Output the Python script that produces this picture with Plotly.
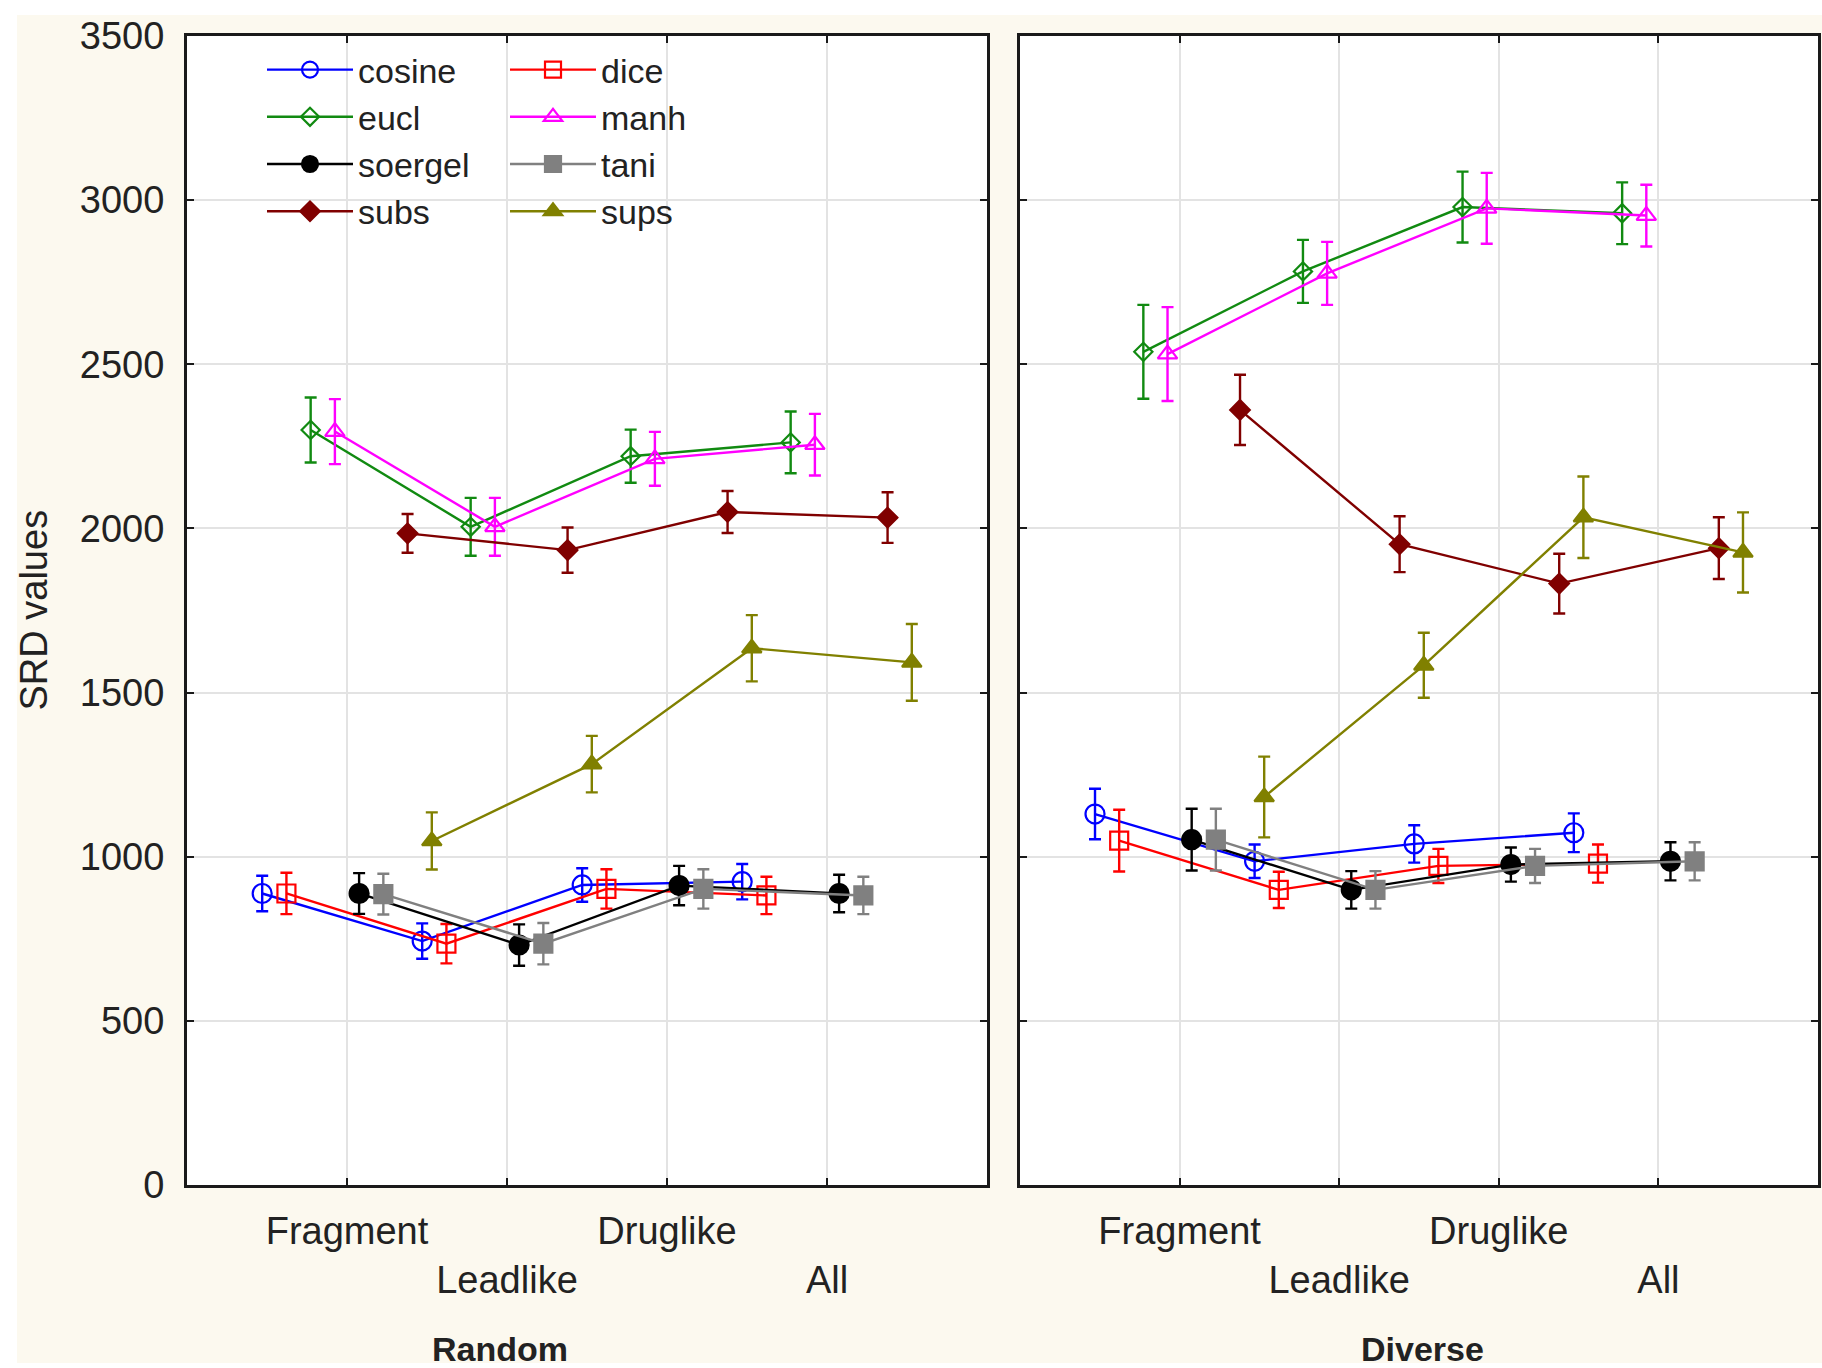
import plotly.graph_objects as go

# ---- data -------------------------------------------------------------
categories = ["Fragment", "Leadlike", "Druglike", "All"]
tick_text = ["Fragment", "<br>Leadlike", "Druglike", "<br>All"]
panels = ["Random", "Diverse"]
series = ["cosine", "dice", "eucl", "manh", "soergel", "tani", "subs", "sups"]

# Random panel: mean SRD values and error half-widths
random_cosine = [888, 743, 914, 924]
random_dice = [888, 735, 902, 882]
random_eucl = [2300, 2005, 2220, 2262]
random_manh = [2295, 2005, 2212, 2255]
random_soergel = [888, 731, 912, 888]
random_tani = [886, 735, 902, 882]
random_subs = [1985, 1934, 2050, 2033]
random_sups = [1048, 1282, 1635, 1592]

random_cosine_err = [54, 54, 51, 54]
random_dice_err = [63, 60, 60, 57]
random_eucl_err = [99, 88, 81, 94]
random_manh_err = [99, 88, 82, 94]
random_soergel_err = [62, 63, 60, 57]
random_tani_err = [62, 63, 60, 57]
random_subs_err = [59, 69, 64, 77]
random_sups_err = [87, 86, 101, 117]

# Diverse panel
diverse_cosine = [1130, 986, 1039, 1073]
diverse_dice = [1049, 899, 972, 979]
diverse_eucl = [2538, 2783, 2979, 2960]
diverse_manh = [2531, 2777, 2975, 2953]
diverse_soergel = [1052, 899, 976, 986]
diverse_tani = [1052, 899, 972, 986]
diverse_subs = [2361, 1952, 1832, 1940]
diverse_sups = [1182, 1583, 2034, 1927]

diverse_cosine_err = [77, 51, 57, 59]
diverse_dice_err = [94, 55, 52, 58]
diverse_eucl_err = [143, 96, 108, 94]
diverse_manh_err = [143, 96, 108, 94]
diverse_soergel_err = [94, 57, 52, 58]
diverse_tani_err = [94, 57, 52, 58]
diverse_subs_err = [107, 85, 91, 94]
diverse_sups_err = [123, 99, 124, 122]

values = {
    "Random": {
        "cosine": (random_cosine, random_cosine_err),
        "dice": (random_dice, random_dice_err),
        "eucl": (random_eucl, random_eucl_err),
        "manh": (random_manh, random_manh_err),
        "soergel": (random_soergel, random_soergel_err),
        "tani": (random_tani, random_tani_err),
        "subs": (random_subs, random_subs_err),
        "sups": (random_sups, random_sups_err),
    },
    "Diverse": {
        "cosine": (diverse_cosine, diverse_cosine_err),
        "dice": (diverse_dice, diverse_dice_err),
        "eucl": (diverse_eucl, diverse_eucl_err),
        "manh": (diverse_manh, diverse_manh_err),
        "soergel": (diverse_soergel, diverse_soergel_err),
        "tani": (diverse_tani, diverse_tani_err),
        "subs": (diverse_subs, diverse_subs_err),
        "sups": (diverse_sups, diverse_sups_err),
    },
}

# ---- styles -----------------------------------------------------------
styles = {
    "cosine": dict(color="#0000ff", symbol="circle-open", size=19),
    "dice": dict(color="#ff0000", symbol="square-open", size=18),
    "eucl": dict(color="#118a11", symbol="diamond-open", size=14),
    "manh": dict(color="#ff00ff", symbol="triangle-up-open", size=17),
    "soergel": dict(color="#000000", symbol="circle", size=19),
    "tani": dict(color="#808080", symbol="square", size=18),
    "subs": dict(color="#800000", symbol="diamond", size=15),
    "sups": dict(color="#808000", symbol="triangle-up", size=17),
}
left_col = ["cosine", "eucl", "soergel", "subs"]

FONT = "Liberation Sans, Arial, sans-serif"
TXT = "#222222"
CREAM = "#fcf9ef"

W, H = 1822, 1368
n = len(series)
dodge_span = 1.06  # total spread of the dodged series around each category

fig = go.Figure()
for p_idx, panel in enumerate(panels):
    xa = "x" if p_idx == 0 else "x2"
    ya = "y" if p_idx == 0 else "y2"
    for i, s in enumerate(series):
        ys, errs = values[panel][s]
        off = -dodge_span / 2 + dodge_span * i / (n - 1)
        xs = [k + 1 + off for k in range(len(categories))]
        st = styles[s]
        fig.add_trace(go.Scatter(
            x=xs, y=ys, name=s, mode="lines+markers",
            xaxis=xa, yaxis=ya,
            line=dict(color=st["color"], width=2.4),
            marker=dict(symbol=st["symbol"], size=st["size"], color=st["color"],
                        line=dict(color=st["color"], width=2.2)),
            error_y=dict(type="data", array=errs, visible=True,
                         color=st["color"], thickness=2.4, width=6),
            showlegend=(p_idx == 0),
            legend="legend" if s in left_col else "legend2",
        ))

common_x = dict(range=[0, 5], tickmode="array", tickvals=[1, 2, 3, 4], ticktext=tick_text,
                showgrid=True, gridcolor="#e3e3e3", gridwidth=1.5,
                showline=True, linecolor="#1a1a1a", linewidth=3, mirror="ticks",
                ticks="inside", ticklen=7, tickwidth=2, tickcolor="#1a1a1a",
                zeroline=False, ticklabelstandoff=10, automargin=False,
                tickfont=dict(family=FONT, size=38, color=TXT))
common_y = dict(range=[0, 3500], tickmode="array", tickvals=list(range(0, 3501, 500)),
                showgrid=True, gridcolor="#e3e3e3", gridwidth=1.5,
                showline=True, linecolor="#1a1a1a", linewidth=3, mirror="ticks",
                ticks="inside", ticklen=7, tickwidth=2, tickcolor="#1a1a1a",
                zeroline=False, ticklabelstandoff=12, automargin=False,
                tickfont=dict(family=FONT, size=38, color=TXT))

ydom = [1 - 1185 / H, 1 - 36 / H]
legend_common = dict(y=1 - 41 / H, xanchor="left", yanchor="top",
                     bgcolor="rgba(0,0,0,0)", font=dict(family=FONT, size=34, color=TXT),
                     itemwidth=86, tracegroupgap=0)
fig.update_layout(
    width=W, height=H,
    margin=dict(l=0, r=0, t=0, b=0, autoexpand=False),
    paper_bgcolor=CREAM, plot_bgcolor="white",
    font=dict(family=FONT, color=TXT),
    xaxis=dict(domain=[187 / W, 987 / W], anchor="y", **common_x),
    xaxis2=dict(domain=[1020 / W, 1818 / W], anchor="y2", **common_x),
    yaxis=dict(domain=ydom, anchor="x", **common_y),
    yaxis2=dict(domain=ydom, anchor="x2", showticklabels=False, **common_y),
    legend=dict(x=262 / W, **legend_common),
    legend2=dict(x=505 / W, **legend_common),
    showlegend=True,
)

# white outer strips (the cream card sits slightly inset)
for x0, x1, y0, y1 in [(0, 17 / W, 0, 1), (0, 1, 1 - 15 / H, 1), (0, 1, 0, 5 / H)]:
    fig.add_shape(type="rect", xref="paper", yref="paper", x0=x0, x1=x1, y0=y0, y1=y1,
                  fillcolor="white", line=dict(width=0), layer="below")

fig.add_annotation(text="SRD values", textangle=-90, xref="paper", yref="paper",
                   x=33 / W, y=(ydom[0] + ydom[1]) / 2, xanchor="center", yanchor="middle",
                   showarrow=False, font=dict(family=FONT, size=38, color=TXT))
fig.add_annotation(text="<b>Random</b>", xref="paper", yref="paper",
                   x=500 / W, y=1 - 1349 / H, xanchor="center", yanchor="middle",
                   showarrow=False, font=dict(family=FONT, size=34, color=TXT))
fig.add_annotation(text="<b>Diverse</b>", xref="paper", yref="paper",
                   x=1422 / W, y=1 - 1349 / H, xanchor="center", yanchor="middle",
                   showarrow=False, font=dict(family=FONT, size=34, color=TXT))

fig.write_html("out.html")
